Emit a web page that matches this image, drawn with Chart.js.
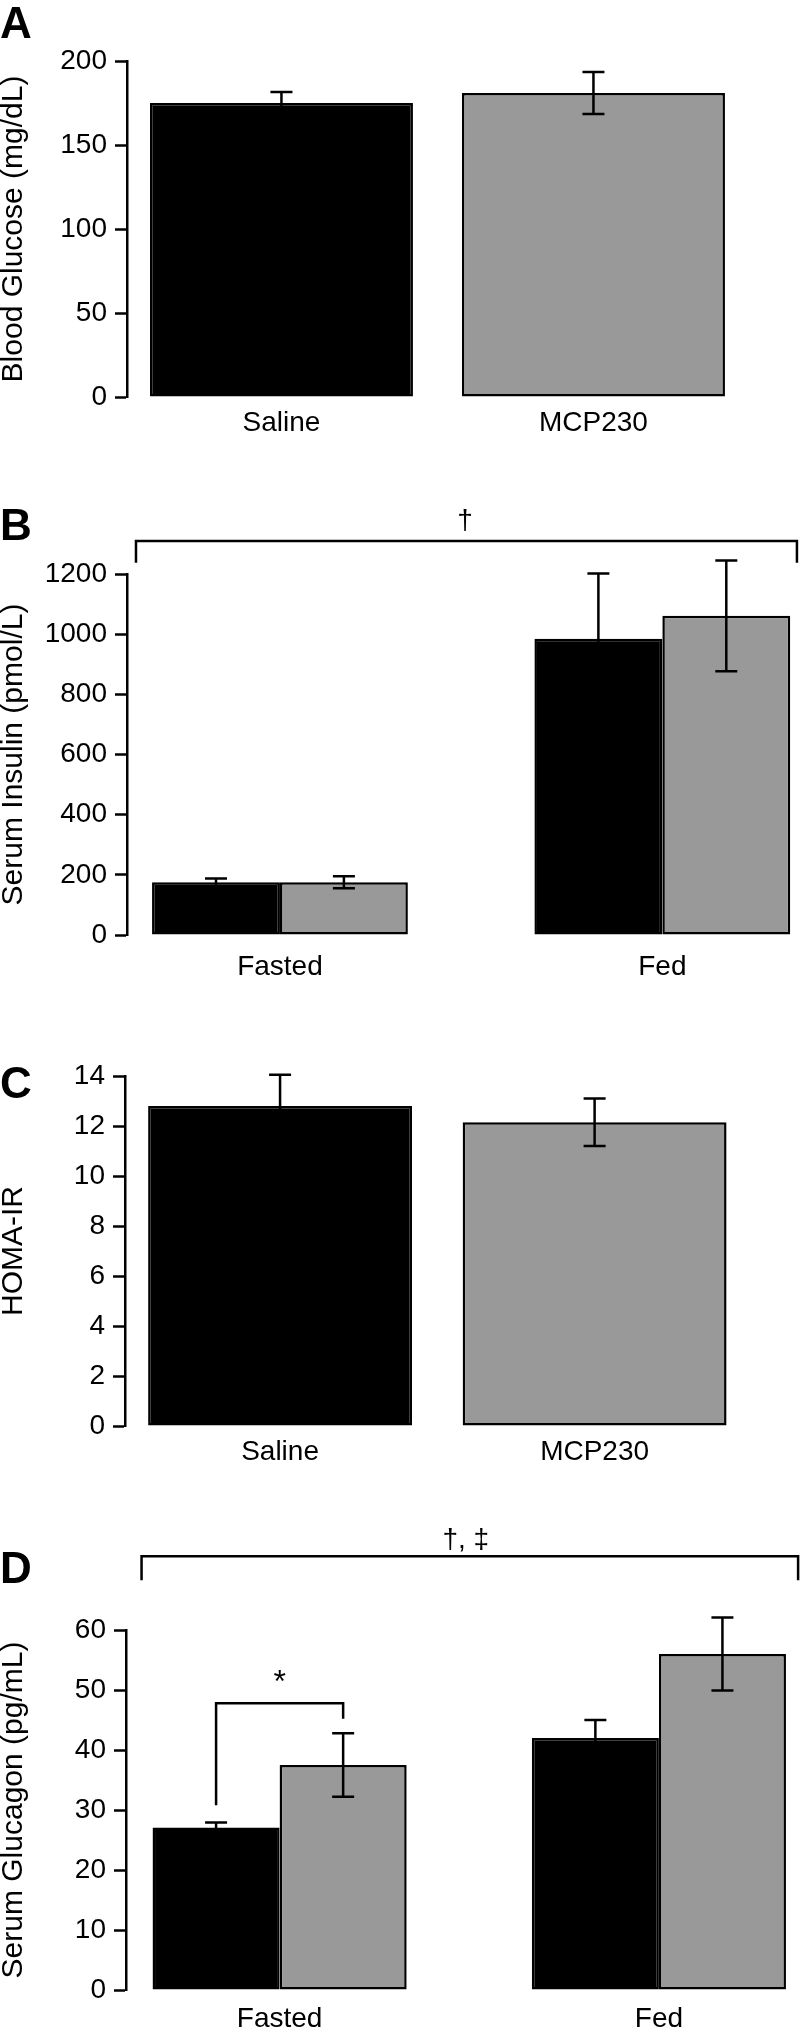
<!DOCTYPE html>
<html>
<head>
<meta charset="utf-8">
<script src="https://cdn.jsdelivr.net/npm/chart.js@4.4.0/dist/chart.umd.min.js"></script>
<style>
  body { margin: 0; background: #fff; width: 800px; height: 2036px; position: relative; overflow: hidden;
         font-family: "Liberation Sans", Arial, Helvetica, sans-serif; }
  canvas { position: absolute; left: 0; }
  .tag { position: absolute; left: 0; font-weight: bold; font-size: 44px; line-height: 44px; color: #000; }
</style>
</head>
<body>
<canvas id="panelA" width="800" height="450" style="top:0px"></canvas>
<canvas id="panelB" width="800" height="530" style="top:450px"></canvas>
<canvas id="panelC" width="800" height="500" style="top:980px"></canvas>
<canvas id="panelD" width="800" height="556" style="top:1480px"></canvas>
<div class="tag" style="top:1px">A</div>
<div class="tag" style="top:503px">B</div>
<div class="tag" style="top:1061px">C</div>
<div class="tag" style="top:1546px">D</div>

<script>
// Panel A - blood glucose
const treatments = ['Saline', 'MCP230'];
const glucoseMean = [175, 181];
const glucoseErr = [6.5, 12.5];
const glucoseTicks = [0, 50, 100, 150, 200];

// Panel B - serum insulin, fasted vs fed
const feedStates = ['Fasted', 'Fed'];
const insulinSaline = [175, 985];
const insulinSalineErr = [13, 217];
const insulinMcp = [175, 1061];
const insulinMcpErr = [20, 184];
const insulinTicks = [0, 200, 400, 600, 800, 1000, 1200];

// Panel C - HOMA-IR
const homaMean = [12.8, 12.15];
const homaErr = [1.25, 0.95];
const homaTicks = [0, 2, 4, 6, 8, 10, 12, 14];

// Panel D - serum glucagon
const glucagonSaline = [27.1, 42];
const glucagonSalineErr = [0.8, 3];
const glucagonMcp = [37.5, 56];
const glucagonMcpErr = [5.3, 6.1];
const glucagonTicks = [0, 10, 20, 30, 40, 50, 60];

const BLACK = '#000000';
const GREY = '#999999';
const FONT = '"Liberation Sans", Arial, Helvetica, sans-serif';

// draws the SEM whiskers on top of every bar
const errorBars = {
    id: 'errorBars',
    afterDatasetsDraw(chart) {
        const { ctx } = chart;
        const y = chart.scales.y;
        ctx.save();
        ctx.strokeStyle = BLACK;
        ctx.lineWidth = 2.5;
        chart.data.datasets.forEach((ds, di) => {
            chart.getDatasetMeta(di).data.forEach((bar, i) => {
                const v = ds.data[i].y;
                const e = ds.err[i];
                const top = y.getPixelForValue(v + e);
                const bot = y.getPixelForValue(v - e);
                ctx.beginPath();
                ctx.moveTo(bar.x, top); ctx.lineTo(bar.x, bot);
                ctx.moveTo(bar.x - 11, top); ctx.lineTo(bar.x + 11, top);
                ctx.moveTo(bar.x - 11, bot); ctx.lineTo(bar.x + 11, bot);
                ctx.stroke();
            });
        });
        ctx.restore();
    }
};

// significance brackets and symbols, given in data units
const significance = {
    id: 'significance',
    afterDraw(chart, args, opts) {
        const { ctx } = chart;
        const xs = chart.scales.x, ys = chart.scales.y;
        const px = v => Array.isArray(v) ? chart.getDatasetMeta(v[0]).data[v[1]].x : xs.getPixelForValue(v);
        ctx.save();
        ctx.strokeStyle = BLACK;
        ctx.fillStyle = BLACK;
        ctx.lineWidth = 2.5;
        (opts.brackets || []).forEach(b => {
            const x0 = px(b.x0), x1 = px(b.x1);
            ctx.beginPath();
            ctx.moveTo(x0, ys.getPixelForValue(b.y0));
            ctx.lineTo(x0, ys.getPixelForValue(b.y));
            ctx.lineTo(x1, ys.getPixelForValue(b.y));
            ctx.lineTo(x1, ys.getPixelForValue(b.y1));
            ctx.stroke();
        });
        (opts.notes || []).forEach(n => {
            ctx.font = n.size + 'px ' + FONT;
            ctx.textAlign = 'center';
            ctx.textBaseline = 'middle';
            ctx.fillText(n.text, px(n.x), ys.getPixelForValue(n.y));
        });
        ctx.restore();
    }
};

function makePanel(p) {
    const datasets = p.series.map(s => ({
        data: s.values.map((v, i) => ({ x: i + 1, y: v })),
        err: s.errors,
        backgroundColor: s.color,
        borderColor: BLACK,
        borderWidth: 2.5,
        borderSkipped: false,
        categoryPercentage: p.catPct,
        barPercentage: 1
    }));
    return new Chart(document.getElementById(p.id), {
        type: 'bar',
        data: { datasets },
        options: {
            responsive: false,
            animation: false,
            events: [],
            layout: { padding: { top: p.top, bottom: p.bottom, left: 0, right: 0 } },
            plugins: {
                legend: { display: false },
                tooltip: { enabled: false },
                significance: { brackets: p.brackets, notes: p.notes }
            },
            scales: {
                x: {
                    type: 'linear',
                    offset: false,
                    min: p.xMin,
                    max: p.xMax,
                    afterBuildTicks: s => { s.ticks = p.labels.map((l, i) => ({ value: i + 1 })); },
                    afterFit: s => { s.height = 40; },
                    grid: { display: false, drawTicks: false },
                    border: { display: false },
                    ticks: {
                        autoSkip: false, maxRotation: 0, padding: p.labelPad, color: BLACK,
                        font: { family: FONT, size: 28 },
                        callback: v => p.labels[v - 1]
                    }
                },
                y: {
                    min: p.yTicks[0],
                    max: p.yTicks[p.yTicks.length - 1],
                    afterBuildTicks: s => { s.ticks = p.yTicks.map(v => ({ value: v })); },
                    afterFit: s => { s.width = p.axisX; },
                    grid: { drawOnChartArea: false, drawTicks: true, tickLength: 12, tickWidth: 2.5, tickColor: BLACK },
                    border: { display: true, color: BLACK, width: 2.5 },
                    ticks: {
                        autoSkip: false, padding: 8, color: BLACK, font: { family: FONT, size: 28 },
                        callback: v => String(v)
                    },
                    title: {
                        display: true, text: p.title, color: BLACK,
                        font: { family: FONT, size: 30, lineHeight: 0.9 },
                        padding: { top: 0, bottom: 0 }
                    }
                }
            }
        },
        plugins: [errorBars, significance]
    });
}

makePanel({
    id: 'panelA', title: 'Blood Glucose (mg/dL)', labels: treatments, yTicks: glucoseTicks,
    top: 61, bottom: 13, labelPad: 9, axisX: 127, xMin: 0.505, xMax: 2.662, catPct: 0.843,
    series: [{ values: glucoseMean, errors: glucoseErr, color: [BLACK, GREY] }]
});

makePanel({
    id: 'panelB', title: 'Serum Insulin (pmol/L)', labels: feedStates, yTicks: insulinTicks,
    top: 124, bottom: 5, labelPad: 15, axisX: 127, xMin: 0.6, xMax: 2.36, catPct: 0.669,
    series: [
        { values: insulinSaline, errors: insulinSalineErr, color: BLACK },
        { values: insulinMcp, errors: insulinMcpErr, color: GREY }
    ],
    brackets: [{ x0: 0.6235, x1: 2.352, y: 1310, y0: 1237, y1: 1237 }],
    notes: [{ text: '\u2020', x: 1.484, y: 1376, size: 28 }]
});

makePanel({
    id: 'panelC', title: 'HOMA-IR', labels: treatments, yTicks: homaTicks,
    top: 96, bottom: 14, labelPad: 9, axisX: 125, xMin: 0.507, xMax: 2.653, catPct: 0.839,
    series: [{ values: homaMean, errors: homaErr, color: [BLACK, GREY] }]
});

makePanel({
    id: 'panelD', title: 'Serum Glucagon (pg/mL)', labels: feedStates, yTicks: glucagonTicks,
    top: 150, bottom: 6, labelPad: 12, axisX: 126, xMin: 0.595, xMax: 2.372, catPct: 0.670,
    series: [
        { values: glucagonSaline, errors: glucagonSalineErr, color: BLACK },
        { values: glucagonMcp, errors: glucagonMcpErr, color: GREY }
    ],
    brackets: [
        { x0: 0.636, x1: 2.367, y: 72.3, y0: 68.3, y1: 68.3 },
        { x0: [0, 0], x1: [1, 0], y: 47.8, y0: 30.8, y1: 45.2 }
    ],
    notes: [
        { text: '\u2020, \u2021', x: 1.491, y: 75, size: 28 },
        { text: '*', x: 1.0, y: 51.2, size: 32 }
    ]
});
</script>
</body>
</html>
